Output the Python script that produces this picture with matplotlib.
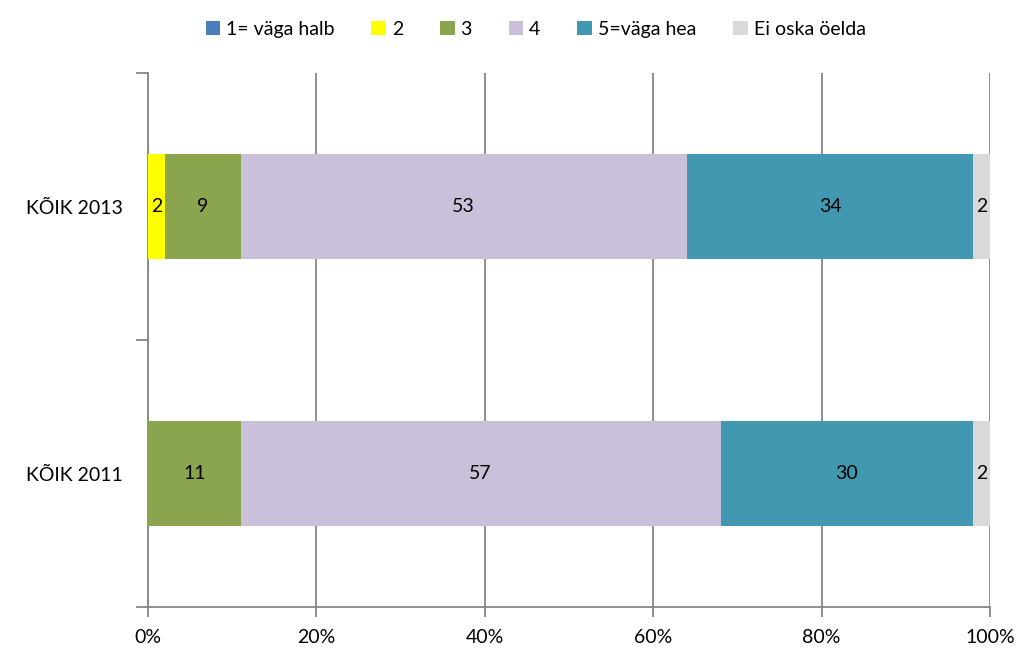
import matplotlib.pyplot as plt
import numpy as np

plt.rcParams['font.family'] = ['Lato', 'DejaVu Sans']

years = ["KÕIK 2011", "KÕIK 2013"]
series = ["1= väga halb", "2", "3", "4", "5=väga hea", "Ei oska öelda"]
colors = ["#4a7ebb", "#ffff00", "#8ba54e", "#cbc0da", "#4298b0", "#d9d9d9"]
# values per series, order: 2011, 2013
v1 = [0, 0]
v2 = [0, 2]
v3 = [11, 9]
v4 = [57, 53]
v5 = [30, 34]
v6 = [2, 2]
values = [v1, v2, v3, v4, v5, v6]

fs = 14

fig = plt.figure(figsize=(10.24, 6.55), dpi=100)
ax = fig.add_axes([0.1445, 0.0733, 0.8223, 0.8152])

ypos = np.arange(len(years))
left = np.zeros(len(years))
for name, col, vals in zip(series, colors, values):
    vals = np.array(vals, dtype=float)
    ax.barh(ypos, vals, left=left, height=0.395, color=col, label=name, zorder=3)
    for y, l, v in zip(ypos, left, vals):
        if v > 0:
            ax.text(l + v / 2, y, "%d" % v, ha='center', va='center', fontsize=fs, zorder=4)
    left += vals

ax.set_xlim(0, 100)
ax.set_ylim(-0.5, 1.5)
ax.set_xticks(np.arange(0, 101, 20))
ax.set_xticklabels(["%d%%" % t for t in range(0, 101, 20)])
ax.xaxis.grid(True, color="#868686", linewidth=1.3, zorder=0)
ax.set_yticks([-0.5, 0.5, 1.5])
ax.set_yticklabels([])
ax.set_yticks(ypos, minor=True)
ax.set_yticklabels(years, minor=True)
ax.tick_params(axis='y', which='major', length=9, color="#868686", width=1.3)
ax.tick_params(axis='y', which='minor', length=0, pad=18, labelsize=fs)
ax.tick_params(axis='x', length=7, color="#868686", width=1.3, pad=9, labelsize=fs)

for s in ['top', 'right']:
    ax.spines[s].set_visible(False)
for s in ['left', 'bottom']:
    ax.spines[s].set_color("#868686")
    ax.spines[s].set_linewidth(1.3)

fig.legend(loc='upper center', bbox_to_anchor=(0.523, 0.995), ncol=6, frameon=False,
           fontsize=fs, handlelength=0.75, handleheight=0.75, handletextpad=0.3,
           columnspacing=1.9)

fig.savefig("out.png", dpi=100)
